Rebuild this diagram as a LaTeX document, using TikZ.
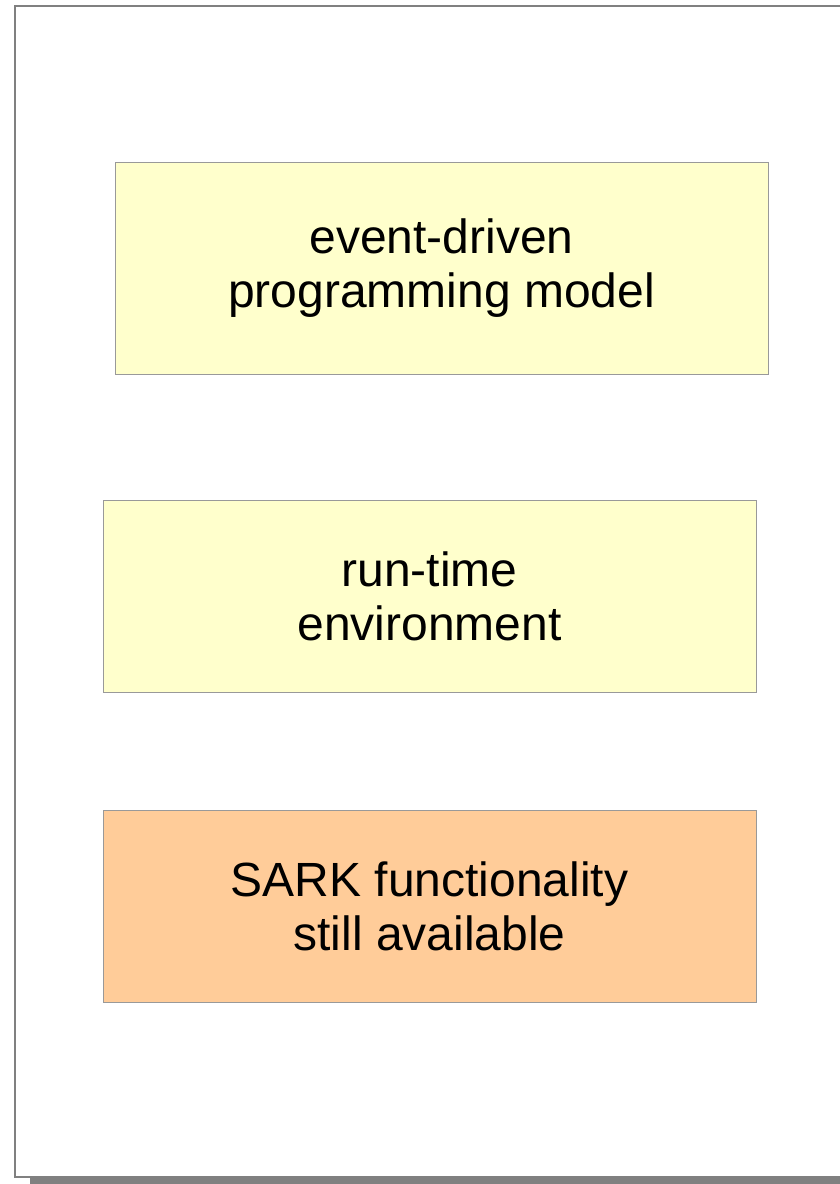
\documentclass[tikz,border=0pt]{standalone}
\usepackage{fontspec}
\setmainfont{Liberation Sans}
\usetikzlibrary{positioning}
\definecolor{pale}{HTML}{FFFFCC}
\definecolor{peach}{HTML}{FFCC99}
\definecolor{boxgray}{HTML}{999999}
\definecolor{pagegray}{HTML}{808080}

\begin{document}
\begin{tikzpicture}[x=1pt,y=-1pt,
    layer/.style={draw=boxgray,line width=1pt,align=center,minimum width=653pt,
      font=\fontsize{48}{54}\selectfont,inner sep=0pt}]
    \useasboundingbox (0,0) rectangle (840,1184);
    % page and its shadow
    \fill[pagegray] (30,1177) rectangle (842,1184);
    \draw[pagegray,line width=1.5pt,fill=white] (15,6) rectangle (842,1177);
    \node[layer,fill=pale,minimum height=212pt] (model) at (441.5,268)
      {event-driven\\programming model};
    \node[layer,fill=pale,minimum height=192pt] (runtime) at (429.5,596)
      {run-time\\environment};
    \node[layer,fill=peach,minimum height=192pt] (sark) at (429.5,906)
      {SARK functionality\\still available};
  \end{tikzpicture}
\end{document}
